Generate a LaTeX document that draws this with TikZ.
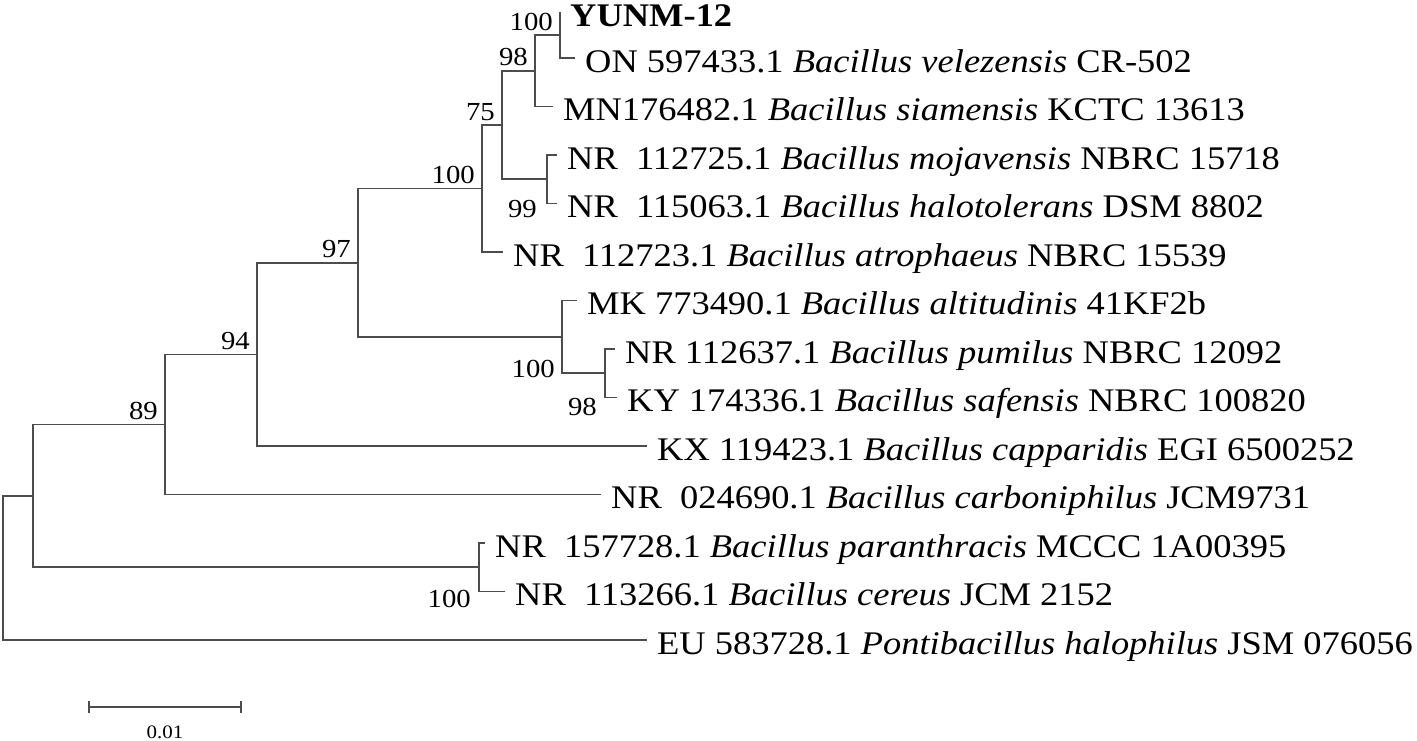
\documentclass[tikz,border=0pt]{standalone}
\usepackage{fontspec}
\setmainfont{Liberation Serif}[FakeStretch=1.105]
\usetikzlibrary{arrows.meta}
\begin{document}
\begin{tikzpicture}[x=1pt,y=-1pt,
	ast/.style={draw=black!70, line width=1.6pt},
	taxon/.style={anchor=base west, inner sep=0pt, xshift=10pt, yshift=-14pt, font=\fontsize{33}{36}\selectfont},
	boot/.style={anchor=base east, inner sep=0pt, xshift=-7pt, yshift=5pt, font=\fontsize{26}{28}\selectfont},
	bootu/.style={anchor=base east, inner sep=0pt, font=\fontsize{26}{28}\selectfont}]
\useasboundingbox (0,0) rectangle (1417,740);
% Knoten:
	\coordinate (a100) at (560,35);
	\coordinate (a98) at (535,70.75);
	\coordinate (a99) at (547,179.25);
	\coordinate (a75) at (502,125);
	\coordinate (b100) at (482,188.5);
	\coordinate (c98) at (605,373.25);
	\coordinate (c100) at (562,336.9);
	\coordinate (b97) at (358,262.7);
	\coordinate (b94) at (257,354.3);
	\coordinate (b89) at (165,424.4);
	\coordinate (d100) at (479,567.25);
	\coordinate (e) at (33,495.8);
	\coordinate (wurzel) at (3,567.9);
% Blaetter:
	\coordinate (p0) at (560,12);
	\coordinate (p1) at (575,58);
	\coordinate (p2) at (553,106.5);
	\coordinate (p3) at (557,155);
	\coordinate (p4) at (557,203.5);
	\coordinate (p5) at (503,252);
	\coordinate (p6) at (577,300.5);
	\coordinate (p7) at (615,349);
	\coordinate (p8) at (617,397.5);
	\coordinate (p9) at (647,446);
	\coordinate (p10) at (601,494.5);
	\coordinate (p11) at (485,543);
	\coordinate (p12) at (505,591.5);
	\coordinate (p13) at (647,640);
% Linien:
	\draw [ast] (a100) |- (p0);
	\draw [ast] (a100) |- (p1);
	\draw [ast] (a98) |- (a100);
	\draw [ast] (a98) |- (p2);
	\draw [ast] (a99) |- (p3);
	\draw [ast] (a99) |- (p4);
	\draw [ast] (a75) |- (a98);
	\draw [ast] (a75) |- (a99);
	\draw [ast] (b100) |- (a75);
	\draw [ast] (b100) |- (p5);
	\draw [ast] (c98) |- (p7);
	\draw [ast] (c98) |- (p8);
	\draw [ast] (c100) |- (p6);
	\draw [ast] (c100) |- (c98);
	\draw [ast] (b97) |- (b100);
	\draw [ast] (b97) |- (c100);
	\draw [ast] (b94) |- (b97);
	\draw [ast] (b94) |- (p9);
	\draw [ast] (b89) |- (b94);
	\draw [ast] (b89) |- (p10);
	\draw [ast] (d100) |- (p11);
	\draw [ast] (d100) |- (p12);
	\draw [ast] (e) |- (b89);
	\draw [ast] (e) |- (d100);
	\draw [ast] (wurzel) |- (e);
	\draw [ast] (wurzel) |- (p13);
% Taxa:
	\node [taxon] (t0) at (p0) {\textbf{YUNM-12}};
	\node [taxon] (t1) at (p1) {ON 597433.1 \textit{Bacillus velezensis} CR-502};
	\node [taxon] (t2) at (p2) {MN176482.1 \textit{Bacillus siamensis} KCTC 13613};
	\node [taxon] (t3) at (p3) {NR\ \ 112725.1 \textit{Bacillus mojavensis} NBRC 15718};
	\node [taxon] (t4) at (p4) {NR\ \ 115063.1 \textit{Bacillus halotolerans} DSM 8802};
	\node [taxon] (t5) at (p5) {NR\ \ 112723.1 \textit{Bacillus atrophaeus} NBRC 15539};
	\node [taxon] (t6) at (p6) {MK 773490.1 \textit{Bacillus altitudinis} 41KF2b};
	\node [taxon] (t7) at (p7) {NR 112637.1 \textit{Bacillus pumilus} NBRC 12092};
	\node [taxon] (t8) at (p8) {KY 174336.1 \textit{Bacillus safensis} NBRC 100820};
	\node [taxon] (t9) at (p9) {KX 119423.1 \textit{Bacillus capparidis} EGI 6500252};
	\node [taxon] (t10) at (p10) {NR\ \ 024690.1 \textit{Bacillus carboniphilus} JCM9731};
	\node [taxon] (t11) at (p11) {NR\ \ 157728.1 \textit{Bacillus paranthracis} MCCC 1A00395};
	\node [taxon] (t12) at (p12) {NR\ \ 113266.1 \textit{Bacillus cereus} JCM 2152};
	\node [taxon] (t13) at (p13) {EU 583728.1 \textit{Pontibacillus halophilus} JSM 076056};
% Bootstrap:
	\node [boot] (l100a) at (a100) {100};
	\node [boot] (l98a) at (a98) {98};
	\node [boot] (l75) at (a75) {75};
	\node [boot] (l100b) at (b100) {100};
	\node [boot] (l97) at (b97) {97};
	\node [boot] (l94) at (b94) {94};
	\node [boot] (l89) at (b89) {89};
	\node [bootu] (l99) at (537,217) {99};
	\node [bootu] (l100c) at (555,377) {100};
	\node [bootu] (l98c) at (597,415) {98};
	\node [bootu] (l100d) at (471,607) {100};
% Massstab:
	\coordinate (s1) at (88,707);
	\coordinate (s2) at (242,707);
	\draw [ast, {Bar[width=12pt]}-{Bar[width=12pt]}] (s1) -- (s2);
	\node [anchor=base, inner sep=0pt, font=\fontsize{19}{20}\selectfont] (skala) at (165,738) {0.01};
\end{tikzpicture}
\end{document}
